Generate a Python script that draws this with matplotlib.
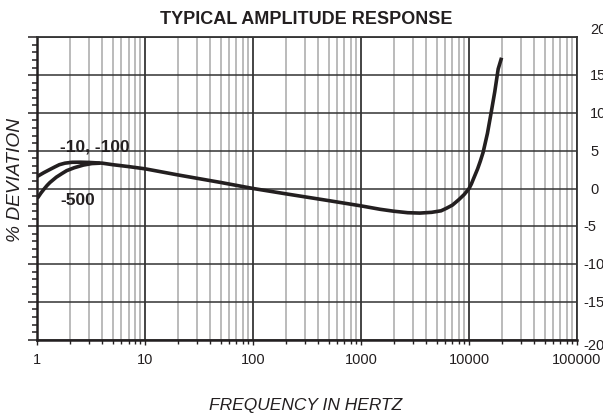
import matplotlib
matplotlib.use('Agg')
import matplotlib.pyplot as plt
import matplotlib.ticker as mticker
import matplotlib.transforms as mtransforms

plt.rcParams['font.family'] = ['Liberation Sans', 'DejaVu Sans']

# curve "-10, -100"
freq_a = [1, 1.15, 1.3, 1.45, 1.6, 1.8, 2.1, 2.5, 3, 4, 5, 7, 10, 20, 50, 100,
          200, 500, 1000, 1500, 2000, 2700, 3500, 4500, 5500, 6200, 7000, 8000,
          9000, 10000, 10500, 11000, 12000, 12700, 13500, 14800, 16000, 17300,
          18600, 20000]
dev_a = [1.6, 2.1, 2.5, 2.85, 3.15, 3.35, 3.47, 3.48, 3.45, 3.35, 3.15, 2.9, 2.6,
         1.8, 0.8, 0.0, -0.7, -1.6, -2.3, -2.75, -3.0, -3.2, -3.25, -3.15, -2.95,
         -2.6, -2.2, -1.5, -0.8, 0.0, 0.6, 1.3, 2.6, 3.6, 4.8, 7.3, 10.0, 12.8,
         15.8, 17.3]

# curve "-500"
freq_b = [1, 1.08, 1.15, 1.23, 1.31, 1.5, 1.7, 1.87, 2.2, 2.67, 3.2, 3.8]
dev_b = [-1.3, -0.6, -0.1, 0.4, 0.8, 1.5, 2.0, 2.36, 2.75, 3.1, 3.3, 3.35]

yticks = [20, 15, 10, 5, 0, -5, -10, -15, -20]
xticks = [1, 10, 100, 1000, 10000, 100000]
xtick_labels = ['1', '10', '100', '1000', '10000', '100000']

ink = '#231f20'

fig = plt.figure(figsize=(6.03, 4.14), dpi=100)
ax = fig.add_axes([0.0619, 0.177, 0.895, 0.7305])

ax.set_xscale('log')
ax.set_xlim(1, 100000)
ax.set_ylim(-20, 20)

# the "-500" branch joins the main curve near 4 Hz
ax.plot(freq_b, dev_b, color=ink, lw=2.6, solid_capstyle='butt', zorder=5)
ax.plot(freq_a, dev_a, color=ink, lw=2.6, solid_capstyle='butt', zorder=5)

# grid
ax.xaxis.set_major_locator(mticker.FixedLocator(xticks))
ax.xaxis.set_minor_locator(mticker.LogLocator(base=10, subs=range(2, 10), numticks=20))
ax.set_xticklabels(xtick_labels)
ax.xaxis.set_minor_formatter(mticker.NullFormatter())
ax.yaxis.set_major_locator(mticker.MultipleLocator(5))
ax.yaxis.set_minor_locator(mticker.MultipleLocator(1))
ax.set_yticklabels([])

ax.grid(which='major', axis='x', color='#111111', lw=1.1)
ax.grid(which='minor', axis='x', color='#a8a8a8', lw=1.1)
ax.grid(which='major', axis='y', color='#333333', lw=1.1)
ax.set_axisbelow(True)

ax.tick_params(axis='x', which='major', direction='out', length=3.5, width=1,
               labelsize=10.5, pad=5, colors=ink)
ax.tick_params(axis='x', which='minor', direction='out', length=3, width=1, colors=ink)
ax.tick_params(axis='y', which='major', direction='out', length=6.5, width=1.1, colors=ink)
ax.tick_params(axis='y', which='minor', direction='out', length=3.6, width=1.1, colors=ink)

for s in ['left', 'bottom']:
    ax.spines[s].set_linewidth(1.8)
    ax.spines[s].set_color(ink)
for s in ['top', 'right']:
    ax.spines[s].set_linewidth(1.3)
    ax.spines[s].set_color('#333333')

# right-hand labels, partly cut off by the figure edge
trans = mtransforms.blended_transform_factory(fig.transFigure, ax.transData)
for v in yticks:
    x = 590 / 603 if v >= 0 else 583 / 603
    yy = v
    if v == 20:
        yy = 21.1
    elif v == -20:
        yy = -20.7
    ax.text(x, yy, str(v), transform=trans, ha='left', va='center',
            fontsize=10.5, color=ink, clip_on=False)

ax.text(1.62, 5.6, '-10, -100', fontsize=12.5, fontweight='bold', color=ink,
        ha='left', va='center')
ax.text(1.62, -1.4, '-500', fontsize=12.5, fontweight='bold', color=ink,
        ha='left', va='center')

fig.text(306 / 603, 1 - 20 / 414, 'TYPICAL AMPLITUDE RESPONSE', fontsize=13,
         fontweight='bold', color=ink, ha='center', va='center')
fig.text(306 / 603, 1 - 406 / 414, 'FREQUENCY IN HERTZ', fontsize=12.5,
         fontstyle='italic', color=ink, ha='center', va='center')
fig.text(15.5 / 603, 1 - 180 / 414, '% DEVIATION', fontsize=13.8, fontstyle='italic',
         color=ink, ha='center', va='center', rotation=90)

fig.savefig('out.png', dpi=100)
